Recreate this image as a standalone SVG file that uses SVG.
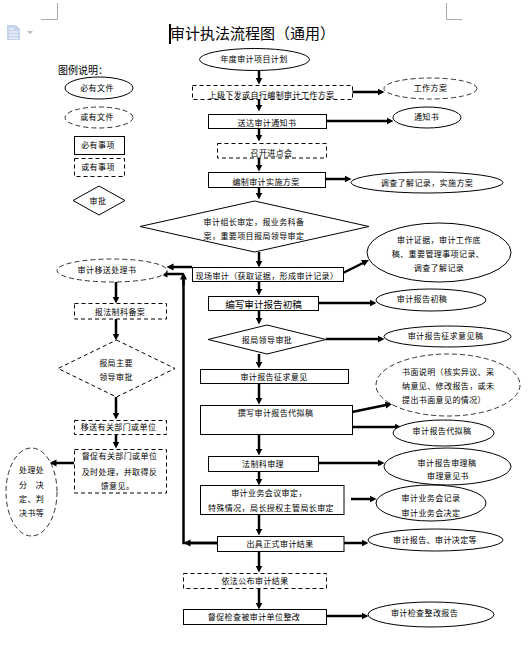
<svg xmlns="http://www.w3.org/2000/svg" width="528" height="654" viewBox="0 0 528 654">
<style>
text{font-family:"Noto Sans CJK SC","Liberation Sans",sans-serif;font-size:8px;letter-spacing:.4px;fill:#000;text-anchor:middle}
.s{text-anchor:start}
.t{font-size:15px;letter-spacing:0;text-anchor:start}
.l{font-size:10px;letter-spacing:0;text-anchor:start}
.b{font-size:9.6px;letter-spacing:0}
rect,ellipse,polygon{fill:#fff;stroke:#000;stroke-width:1}
.d{stroke-dasharray:4 3}
.e{stroke:#333;stroke-dasharray:5 3}
.c line,.c path{fill:none;stroke:#000;stroke-width:2.5}
.c .a{marker-end:url(#h)}
.m{fill:none;stroke:#aaa;stroke-width:1}
</style>
<defs>
<marker id="h" markerUnits="userSpaceOnUse" markerWidth="8" markerHeight="8" refX="0.5" refY="4" orient="auto"><path d="M0 .5L7 4L0 7.5z" fill="#000"/></marker>
</defs>
<g id="page">
<path class="m" d="M41 19.500H57.500V3M446.500 3V19.500H462"/>
<path d="M7 25h9l4 4v11H7z" fill="#c3d4ec"/>
<path d="M9 29h5M9 32h9M9 35h9M9 38h9" stroke="#fff" stroke-width="1"/>
<path d="M27 31h6l-3 3z" fill="#bbb"/>
<rect x="169" y="24" width="2" height="20" style="fill:#000;stroke:none"/>
</g>
<g id="title"><text class="t" x="170" y="39">审计执法流程图（通用）</text></g>

<g id="connectors" class="c">
<line class="a" x1="259" y1="71" x2="259" y2="78"/>
<line class="a" x1="259" y1="99" x2="259" y2="105"/>
<line class="a" x1="259" y1="128" x2="259" y2="135"/>
<line class="a" x1="259" y1="158" x2="259" y2="165"/>
<line class="a" x1="259" y1="187" x2="259" y2="193"/>
<line class="a" x1="259" y1="252" x2="259" y2="261"/>
<line class="a" x1="259" y1="281" x2="259" y2="289"/>
<line class="a" x1="259" y1="310" x2="259" y2="318"/>
<line class="a" x1="259" y1="354" x2="259" y2="362"/>
<line class="a" x1="259" y1="383" x2="259" y2="398"/>
<line class="a" x1="259" y1="434" x2="259" y2="449"/>
<line class="a" x1="259" y1="471" x2="259" y2="479"/>
<line class="a" x1="259" y1="514" x2="259" y2="529"/>
<line class="a" x1="259" y1="551" x2="259" y2="566"/>
<line class="a" x1="259" y1="588" x2="259" y2="603"/>
<line class="a" x1="352" y1="92" x2="378" y2="92"/>
<line class="a" x1="326" y1="121" x2="387" y2="121"/>
<line class="a" x1="326" y1="179" x2="345" y2="179"/>
<line class="a" x1="343" y1="273" x2="363" y2="263"/>
<line class="a" x1="318" y1="303" x2="370" y2="303"/>
<line class="a" x1="326" y1="339" x2="378" y2="339"/>
<line class="a" x1="352" y1="412" x2="386" y2="405"/>
<line class="a" x1="352" y1="427" x2="395" y2="427"/>
<line class="a" x1="318" y1="463" x2="378" y2="463"/>
<line class="a" x1="351" y1="499" x2="370" y2="499"/>
<line class="a" x1="344" y1="543" x2="362" y2="543"/>
<line class="a" x1="326" y1="616" x2="362" y2="616"/>
<line class="a" x1="192" y1="267" x2="173" y2="267"/>
<path class="a" d="M183 274H167"/>
<path d="M217 543H183.500V280"/>
<line class="a" x1="183.500" y1="285" x2="183.500" y2="279"/>
<line class="a" x1="217" y1="543" x2="190" y2="543"/>
<line class="a" x1="116" y1="282" x2="116" y2="297"/>
<line class="a" x1="116" y1="319" x2="116" y2="334"/>
<line class="a" x1="116" y1="397" x2="116" y2="413"/>
<line class="a" x1="116" y1="434" x2="116" y2="442"/>
<line class="a" x1="74" y1="463" x2="56" y2="463"/>
</g>

<g id="n-plan"><ellipse cx="254.500" cy="59.500" rx="55" ry="11"/><text x="254" y="62">年度审计项目计划</text></g>
<g id="n-workplan"><rect class="d" x="192.500" y="85.500" width="160" height="14"/><text x="271.500" y="98">上级下发或自行编制审计工作方案</text></g>
<g id="n-notice"><rect x="208.500" y="114.500" width="118" height="14"/><text x="267" y="126">送达审计通知书</text></g>
<g id="n-meeting"><rect class="d" x="217.500" y="143.500" width="109" height="14.500"/><text x="271.500" y="156">召开进点会</text></g>
<g id="n-impl"><rect x="208.500" y="172.500" width="117" height="15"/><text x="266" y="185">编制审计实施方案</text></g>
<g id="n-review1"><polygon points="254.500,201 369,226.500 254.500,252 140,226.500"/><text x="254" y="225">审计组长审定，报业务科备</text><text x="254" y="239">案，重要项目报局领导审定</text></g>
<g id="n-field"><rect x="192.500" y="267.500" width="151" height="14"/><text x="267" y="279">现场审计（获取证据，形成审计记录）</text></g>
<g id="n-draft"><rect x="208.500" y="296.500" width="110" height="14"/><text class="b" x="263.500" y="307.500">编写审计报告初稿</text></g>
<g id="n-review2"><polygon points="267,325 326,339.500 267,354 208,339.500"/><text x="267" y="343">报局领导审批</text></g>
<g id="n-opinion"><rect x="200.500" y="369.500" width="148" height="14"/><text x="274" y="380">审计报告征求意见</text></g>
<g id="n-proxy"><rect x="200.500" y="405.500" width="152" height="29"/><text x="275.500" y="416">撰写审计报告代拟稿</text></g>
<g id="n-legal"><rect x="208.500" y="456.500" width="110" height="15"/><text x="263" y="467">法制科审理</text></g>
<g id="n-board"><rect x="200.500" y="485.500" width="143.500" height="29"/><text x="269" y="496">审计业务会议审定，</text><text x="271" y="511">特殊情况，局长授权主管局长审定</text></g>
<g id="n-result"><rect x="217.500" y="536.500" width="126.500" height="15"/><text x="280" y="547">出具正式审计结果</text></g>
<g id="n-publish"><rect class="d" x="183.500" y="573.500" width="143" height="15"/><text x="255" y="584">依法公布审计结果</text></g>
<g id="n-rectify"><rect x="183.500" y="609.500" width="143" height="15"/><text x="254" y="620">督促检查被审计单位整改</text></g>

<g id="r-workplan"><ellipse class="e" cx="430.500" cy="88.500" rx="46.500" ry="10.500"/><text x="430.500" y="91">工作方案</text></g>
<g id="r-notice"><ellipse cx="427" cy="117.500" rx="34" ry="10.500"/><text x="426.500" y="120">通知书</text></g>
<g id="r-survey"><ellipse cx="427" cy="182.500" rx="76" ry="10.500"/><text x="427" y="186">调查了解记录，实施方案</text></g>
<g id="r-evidence"><ellipse cx="439" cy="252.500" rx="72" ry="29.500"/><text x="439" y="243">审计证据，审计工作底</text><text x="438" y="257">稿、重要管理事项记录、</text><text x="439" y="271">调查了解记录</text></g>
<g id="r-draft"><ellipse cx="431" cy="300" rx="55" ry="11"/><text x="422" y="302">审计报告初稿</text></g>
<g id="r-opinion"><ellipse cx="447.500" cy="336.500" rx="63.500" ry="10.500"/><text x="445.500" y="339">审计报告征求意见稿</text></g>
<g id="r-written"><ellipse class="e" cx="448" cy="385" rx="72" ry="31"/><text class="s" x="402" y="375">书面说明（核实异议、采</text><text class="s" x="402" y="389">纳意见、修改报告，或未</text><text class="s" x="402" y="403">提出书面意见的情况）</text></g>
<g id="r-proxy"><ellipse cx="443.500" cy="433" rx="50.500" ry="13"/><text x="442" y="434">审计报告代拟稿</text></g>
<g id="r-legal"><ellipse cx="447.500" cy="466.500" rx="63.500" ry="18.500"/><text x="447" y="466">审计报告审理稿</text><text x="448" y="479">审理意见书</text></g>
<g id="r-board"><ellipse cx="431" cy="503" rx="55" ry="18"/><text x="431" y="501">审计业务会记录</text><text x="431" y="516">审计业务会决定</text></g>
<g id="r-result"><ellipse cx="435.500" cy="540" rx="67.500" ry="11"/><text x="435" y="543">审计报告、审计决定等</text></g>
<g id="r-rectify"><ellipse cx="431" cy="614.500" rx="63" ry="12.500"/><text x="424.500" y="616">审计检查整改报告</text></g>

<g id="legend-title"><text class="l" x="58" y="74">图例说明：</text></g>
<g id="legend-doc"><ellipse cx="99" cy="88" rx="34" ry="11"/><text x="97" y="91">必有文件</text></g>
<g id="legend-optdoc"><ellipse class="e" cx="99" cy="117.500" rx="34" ry="10.500"/><text x="97" y="120">或有文件</text></g>
<g id="legend-item"><rect x="74.500" y="136.500" width="50" height="18"/><text x="98" y="148">必有事项</text></g>
<g id="legend-optitem"><rect class="d" x="74.500" y="158.500" width="50" height="18"/><text x="98" y="170">或有事项</text></g>
<g id="legend-approve"><polygon points="99,186 125,200.500 99,215 73,200.500"/><text x="98" y="204">审批</text></g>

<g id="l-transfer"><ellipse class="e" cx="112" cy="270.500" rx="55" ry="11.500"/><text x="107" y="273">审计移送处理书</text></g>
<g id="l-record"><rect class="d" x="74.500" y="303.500" width="92" height="15.500"/><text x="120" y="315">报法制科备案</text></g>
<g id="l-approve"><polygon class="d" points="116.500,340 175,368.500 116.500,397 58,368.500"/><text x="116" y="366">报局主要</text><text x="116" y="380">领导审批</text></g>
<g id="l-send"><rect class="d" x="74.500" y="420.500" width="92" height="14"/><text x="118.500" y="430">移送有关部门或单位</text></g>
<g id="l-urge"><rect class="d" x="74.500" y="449.500" width="92" height="43.500"/><text x="119.500" y="459">督促有关部门或单位</text><text x="119.500" y="475">及时处理，并取得反</text><text x="117.500" y="489">馈意见。</text></g>
<g id="l-penalty"><ellipse class="e" cx="31.500" cy="492" rx="25.500" ry="44"/><text class="s" x="19" y="473">处理处</text><text class="s" x="19" y="488">分　决</text><text class="s" x="19" y="502">定、判</text><text class="s" x="19" y="516">决书等</text></g>
</svg>
